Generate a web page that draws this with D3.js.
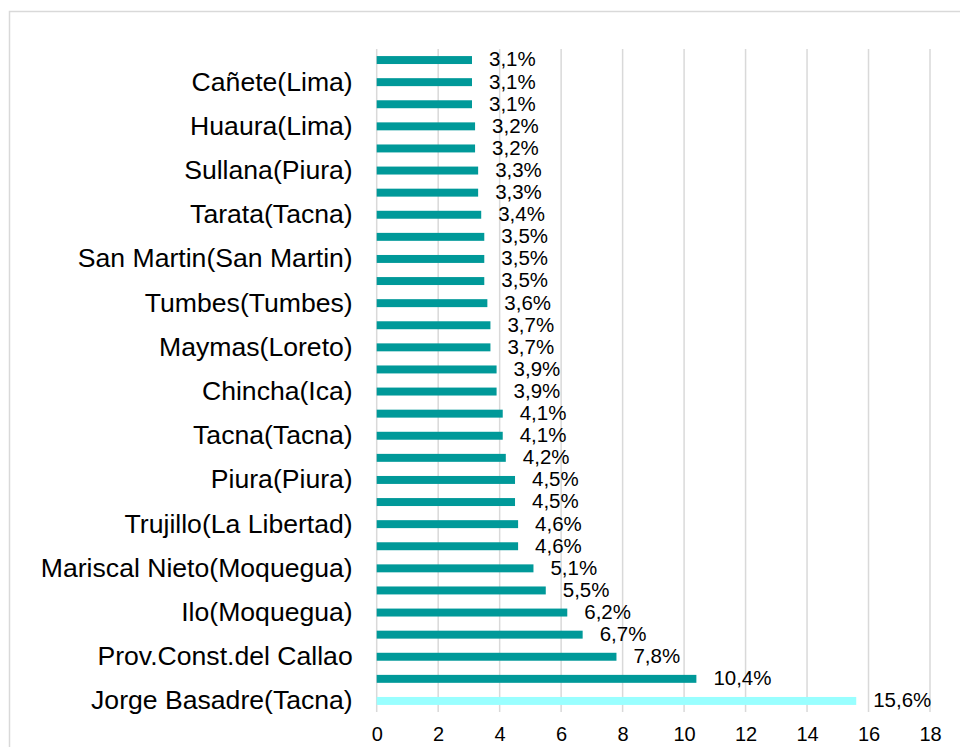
<!DOCTYPE html>
<html><head><meta charset="utf-8">
<script src="https://cdn.jsdelivr.net/npm/d3@7"></script>
<style>body{margin:0;background:#fff}svg{display:block}text{font-family:"Liberation Sans",Arial,sans-serif;fill:#000}</style>
</head><body><svg id="c" width="960" height="747"></svg>
<script>
// Top-to-bottom order; only every other category label is shown in the reference
const categories = ["", "Cañete(Lima)", "", "Huaura(Lima)", "", "Sullana(Piura)", "", "Tarata(Tacna)", "", "San Martin(San Martin)", "", "Tumbes(Tumbes)", "", "Maymas(Loreto)", "", "Chincha(Ica)", "", "Tacna(Tacna)", "", "Piura(Piura)", "", "Trujillo(La Libertad)", "", "Mariscal Nieto(Moquegua)", "", "Ilo(Moquegua)", "", "Prov.Const.del Callao", "", "Jorge Basadre(Tacna)"];
const values = [3.1, 3.1, 3.1, 3.2, 3.2, 3.3, 3.3, 3.4, 3.5, 3.5, 3.5, 3.6, 3.7, 3.7, 3.9, 3.9, 4.1, 4.1, 4.2, 4.5, 4.5, 4.6, 4.6, 5.1, 5.5, 6.2, 6.7, 7.8, 10.4, 15.6];
const highlighted = [false,false,false,false,false,false,false,false,false,false,false,false,false,false,false,false,false,false,false,false,false,false,false,false,false,false,false,false,false,true];
const xTicks = [0, 2, 4, 6, 8, 10, 12, 14, 16, 18];

const svg = d3.select("#c");
const m = {left: 376.7, right: 930, top: 49, bottom: 712};

svg.append("rect").attr("x", 9.5).attr("y", 11.5).attr("width", 1000).attr("height", 1000)
  .attr("fill", "none").attr("stroke", "#d9d9d9").attr("stroke-width", 1.5);

const idx = d3.range(values.length);
const x = d3.scaleLinear().domain([0, 18]).range([m.left, m.right]);
const y = d3.scaleBand().domain(idx).range([m.top, m.bottom]).paddingInner(0.64).paddingOuter(0.32);

// gridlines
svg.append("g").selectAll("line").data(xTicks).join("line")
  .attr("x1", d => x(d)).attr("x2", d => x(d))
  .attr("y1", m.top).attr("y2", m.bottom)
  .attr("stroke", "#d9d9d9").attr("stroke-width", 1.5);

// bars
svg.append("g").selectAll("rect").data(idx).join("rect")
  .attr("x", x(0)).attr("y", i => y(i))
  .attr("width", i => x(values[i]) - x(0)).attr("height", y.bandwidth())
  .attr("fill", i => highlighted[i] ? "#99ffff" : "#009999");

// value labels
svg.append("g").selectAll("text").data(idx).join("text")
  .attr("x", i => x(values[i]) + 17).attr("y", i => y(i) + y.bandwidth() / 2 + 1)
  .attr("dominant-baseline", "middle").attr("font-size", 20.5)
  .text(i => values[i].toFixed(1).replace(".", ",") + "%");

// category axis
const yAxis = d3.axisLeft(y).tickSize(0).tickPadding(24).tickFormat(i => categories[i]);
const ga = svg.append("g").attr("transform", `translate(${m.left},0)`).call(yAxis);
ga.select(".domain").remove();
ga.selectAll("text").attr("font-size", 26.6).attr("font-family", '"Liberation Sans",Arial,sans-serif').attr("fill", "#000");

// x axis
const xAxis = d3.axisBottom(x).tickValues(xTicks).tickSize(0).tickPadding(14.5).tickFormat(d3.format("d"));
const gx = svg.append("g").attr("transform", `translate(0,${m.bottom})`).call(xAxis);
gx.select(".domain").remove();
gx.selectAll("text").attr("font-size", 20).attr("font-family", '"Liberation Sans",Arial,sans-serif').attr("fill", "#000");
</script></body></html>
